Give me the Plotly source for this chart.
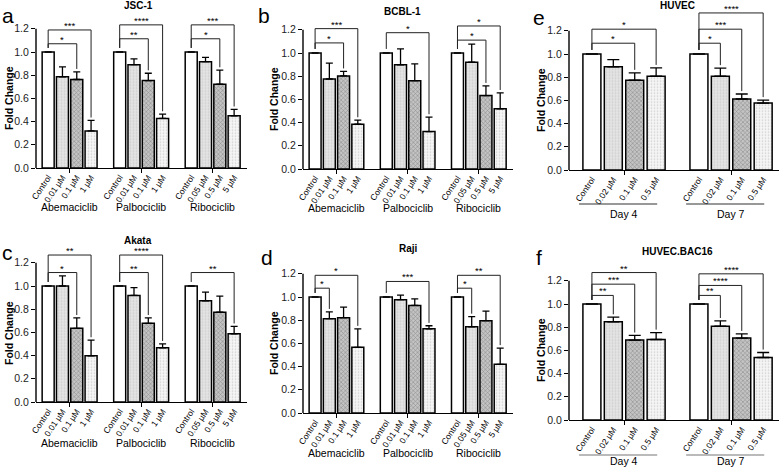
import plotly.graph_objects as go

W, H = 784, 469

# ---------------- data ----------------
drugs = ["Abemaciclib", "Palbociclib", "Ribociclib"]
days = ["Day 4", "Day 7"]
dose_abema = ["Control", "0.01 µM", "0.1 µM", "1 µM"]
dose_palbo = ["Control", "0.01 µM", "0.1 µM", "1 µM"]
dose_ribo = ["Control", "0.05 µM", "0.5 µM", "5 µM"]
dose_huvec = ["Control", "0.02 µM", "0.1 µM", "0.5 µM"]
y_ticks = [0.0, 0.2, 0.4, 0.6, 0.8, 1.0, 1.2]

# rows = groups, columns = doses (Control, low, mid, high)
jsc1_mean = [[1.0, 0.786, 0.763, 0.32], [1.0, 0.891, 0.754, 0.427], [1.0, 0.917, 0.723, 0.45]]
jsc1_err = [[0, 0.085, 0.066, 0.09], [0, 0.05, 0.063, 0.037], [0, 0.037, 0.12, 0.055]]
jsc1_sig = [(0, 2, 1.071, "*"), (0, 3, 1.19, "***"), (1, 2, 1.114, "**"),
            (1, 3, 1.234, "****"), (2, 2, 1.114, "*"), (2, 3, 1.234, "***")]

bcbl1_mean = [[1.0, 0.776, 0.802, 0.386], [1.0, 0.898, 0.761, 0.323], [1.0, 0.921, 0.633, 0.519]]
bcbl1_err = [[0, 0.137, 0.04, 0.035], [0, 0.137, 0.146, 0.124], [0, 0.155, 0.084, 0.137]]
bcbl1_sig = [(0, 2, 1.087, "*"), (0, 3, 1.21, "***"), (1, 3, 1.175, "*"),
             (2, 2, 1.111, "*"), (2, 3, 1.233, "*")]

huvec_mean = [[1.0, 0.89, 0.774, 0.809], [1.0, 0.809, 0.612, 0.577]]
huvec_err = [[0, 0.061, 0.064, 0.072], [0, 0.07, 0.043, 0.026]]
huvec_sig = [(0, 2, 1.093, "*"), (0, 3, 1.214, "*"), (1, 1, 1.093, "*"),
             (1, 2, 1.214, "***"), (1, 3, 1.354, "****")]

akata_mean = [[1.0, 1.0, 0.635, 0.398], [1.0, 0.919, 0.678, 0.467], [1.0, 0.872, 0.774, 0.588]]
akata_err = [[0, 0.087, 0.09, 0.135], [0, 0.067, 0.047, 0.034], [0, 0.076, 0.139, 0.064]]
akata_sig = [(0, 2, 1.116, "*"), (0, 3, 1.267, "**"), (1, 2, 1.116, "**"),
             (1, 3, 1.267, "****"), (2, 3, 1.116, "**")]

raji_mean = [[1.0, 0.813, 0.822, 0.566], [1.0, 0.977, 0.927, 0.726], [1.0, 0.743, 0.796, 0.42]]
raji_err = [[0, 0.059, 0.091, 0.16], [0, 0.04, 0.056, 0.026], [0, 0.088, 0.082, 0.14]]
raji_sig = [(0, 1, 1.076, "*"), (0, 3, 1.187, "*"), (1, 3, 1.134, "***"),
            (2, 1, 1.076, "*"), (2, 3, 1.187, "**")]

bac16_mean = [[1.0, 0.846, 0.689, 0.694], [1.0, 0.809, 0.706, 0.539]]
bac16_err = [[0, 0.04, 0.04, 0.06], [0, 0.045, 0.037, 0.043]]
bac16_sig = [(0, 1, 1.074, "**"), (0, 2, 1.171, "***"), (0, 3, 1.271, "**"),
             (1, 1, 1.074, "**"), (1, 2, 1.16, "****"), (1, 3, 1.26, "****")]

# ---------------- layout / style ----------------
FONT = "Arial, Liberation Sans, sans-serif"
STEP = 5          # x units per group
BARW = 0.84
PXU = 116.0       # pixels per 1.0 fold change
YMAX = 1.4

panels = [
    dict(letter="a", title="JSC-1", mean=jsc1_mean, err=jsc1_err, sig=jsc1_sig, groups=drugs,
         doses=[dose_abema, dose_palbo, dose_ribo], px=(36, 247), zero=168, xr=[-0.85, 13.9],
         title_xy=(138, 6), letter_xy=(8, 16), ytitle_xy=(9, 98), glabel_y=207, ew=3.5, day_line=None),
    dict(letter="b", title="BCBL-1", mean=bcbl1_mean, err=bcbl1_err, sig=bcbl1_sig, groups=drugs,
         doses=[dose_abema, dose_palbo, dose_ribo], px=(303, 513), zero=169, xr=[-0.85, 13.9],
         title_xy=(402, 11), letter_xy=(264, 16), ytitle_xy=(274, 99), glabel_y=208, ew=3.5, day_line=None),
    dict(letter="e", title="HUVEC", mean=huvec_mean, err=huvec_err, sig=huvec_sig, groups=days,
         doses=[dose_huvec, dose_huvec], px=(569, 779), zero=170, xr=[-1.07, 8.74],
         title_xy=(677, 6), letter_xy=(539, 17), ytitle_xy=(541, 100), glabel_y=214, ew=6, day_line=(204, "#333")),
    dict(letter="c", title="Akata", mean=akata_mean, err=akata_err, sig=akata_sig, groups=drugs,
         doses=[dose_abema, dose_palbo, dose_ribo], px=(36, 247), zero=402, xr=[-0.85, 13.9],
         title_xy=(138, 240), letter_xy=(8, 252), ytitle_xy=(9, 333), glabel_y=443, ew=3.5, day_line=None),
    dict(letter="d", title="Raji", mean=raji_mean, err=raji_err, sig=raji_sig, groups=drugs,
         doses=[dose_abema, dose_palbo, dose_ribo], px=(303, 513), zero=413, xr=[-0.85, 13.9],
         title_xy=(408, 249), letter_xy=(267, 257), ytitle_xy=(274, 343), glabel_y=453, ew=3.5, day_line=None),
    dict(letter="f", title="HUVEC.BAC16", mean=bac16_mean, err=bac16_err, sig=bac16_sig, groups=days,
         doses=[dose_huvec, dose_huvec], px=(569, 779), zero=420, xr=[-1.07, 8.74],
         title_xy=(677, 251), letter_xy=(539, 257), ytitle_xy=(541, 350), glabel_y=461, ew=6, day_line=(455, "#777")),
]

fills = [
    dict(color="white"),
    dict(color="#dedede", pattern=dict(shape=".", fgcolor="#b8b8b8", bgcolor="#e4e4e4", size=3, solidity=0.3)),
    dict(color="#a8a8a8", pattern=dict(shape="x", fgcolor="#555555", bgcolor="#c4c4c4", size=3, solidity=0.35)),
    dict(color="#f0f0f0", pattern=dict(shape=".", fgcolor="#a6a6a6", bgcolor="#f6f6f6", size=3, solidity=0.25)),
]

fig = go.Figure()
shapes = []
annotations = []


def px_to_paper(x, y):
    return x / W, 1 - y / H


for k, p in enumerate(panels, start=1):
    xa = "x" if k == 1 else f"x{k}"
    ya = "y" if k == 1 else f"y{k}"
    ng = len(p["groups"])
    for i in range(4):
        xs = [g * STEP + i for g in range(ng)]
        ys = [p["mean"][g][i] for g in range(ng)]
        es = [p["err"][g][i] for g in range(ng)]
        fig.add_trace(go.Bar(
            x=xs, y=ys, width=BARW, xaxis=xa, yaxis=ya, showlegend=False,
            marker=dict(line=dict(color="black", width=1.5), **fills[i]),
            error_y=dict(type="data", symmetric=False, array=es, arrayminus=[0] * ng,
                         color="black", thickness=1.3, width=p["ew"], visible=True),
            hoverinfo="skip",
        ))

    tickvals, ticktext = [], []
    for g in range(ng):
        for i in range(4):
            tickvals.append(g * STEP + i)
            ticktext.append(p["doses"][g][i])
    centers = [g * STEP + 1.5 for g in range(ng)]

    x0p, x1p = p["px"]
    top_px = p["zero"] - YMAX * PXU
    axkey = "" if k == 1 else str(k)
    fig.layout["xaxis" + axkey] = dict(
        domain=[x0p / W, x1p / W], range=p["xr"], anchor=ya, automargin=False,
        showline=True, linecolor="black", linewidth=1.4, showgrid=False, zeroline=False,
        tickmode="array", tickvals=tickvals, ticktext=ticktext, tickangle=-56, ticks="",
        tickfont=dict(size=8.5, color="black", family=FONT),
        minor=dict(tickmode="array", tickvals=centers, ticks="outside", ticklen=4,
                   tickcolor="black", tickwidth=1.3, showgrid=False),
        fixedrange=True,
    )
    fig.layout["yaxis" + axkey] = dict(
        domain=[1 - p["zero"] / H, 1 - top_px / H], range=[0, YMAX], anchor=xa, automargin=False,
        showline=False, showgrid=False, zeroline=False,
        tickmode="array", tickvals=y_ticks, ticktext=[f"{v:.1f}" for v in y_ticks],
        ticks="outside", ticklen=4, tickwidth=1.3, tickcolor="black",
        tickfont=dict(size=10.5, color="#222", family=FONT), fixedrange=True,
    )
    # y-axis line from 0 to 1.2
    shapes.append(dict(type="line", xref=f"{xa} domain", yref=ya, x0=0, x1=0, y0=0, y1=y_ticks[-1],
                       line=dict(color="black", width=1.4)))

    # significance brackets
    for (g, t, lvl, lab) in p["sig"]:
        xl = g * STEP
        xr_ = g * STEP + t
        yl = p["mean"][g][0] + p["err"][g][0] + 0.035
        yr = p["mean"][g][t] + p["err"][g][t] + 0.025
        shapes.append(dict(type="path", xref=xa, yref=ya,
                           path=f"M {xl},{yl} L {xl},{lvl} L {xr_},{lvl} L {xr_},{yr}",
                           line=dict(color="#222", width=1)))
        annotations.append(dict(x=(xl + xr_) / 2, y=lvl, xref=xa, yref=ya, text=lab, showarrow=False,
                                yanchor="bottom", yshift=-3, font=dict(size=9.5, color="black", family=FONT)))

    # group labels
    for g in range(ng):
        annotations.append(dict(x=centers[g], y=1 - p["glabel_y"] / H, xref=xa, yref="paper",
                                text=p["groups"][g], showarrow=False, xanchor="center", yanchor="middle",
                                font=dict(size=10.5, color="black", family=FONT)))
        if p["day_line"] is not None:
            ly, lc = p["day_line"]
            shapes.append(dict(type="line", xref=xa, yref="paper", x0=centers[g] - 2.1, x1=centers[g] + 1.55,
                               y0=1 - ly / H, y1=1 - ly / H, line=dict(color=lc, width=1.2)))

    tx, ty = px_to_paper(*p["title_xy"])
    annotations.append(dict(x=tx, y=ty, xref="paper", yref="paper", text=f"<b>{p['title']}</b>",
                            showarrow=False, xanchor="center", yanchor="middle",
                            font=dict(size=10, color="black", family=FONT)))
    lx, ly2 = px_to_paper(*p["letter_xy"])
    annotations.append(dict(x=lx, y=ly2, xref="paper", yref="paper", text=p["letter"],
                            showarrow=False, xanchor="center", yanchor="middle",
                            font=dict(size=21, color="black", family=FONT)))
    yx, yy = px_to_paper(*p["ytitle_xy"])
    annotations.append(dict(x=yx, y=yy, xref="paper", yref="paper", text="<b>Fold Change</b>",
                            showarrow=False, xanchor="center", yanchor="middle", textangle=-90,
                            font=dict(size=10.5, color="black", family=FONT)))

fig.update_layout(
    width=W, height=H, margin=dict(l=0, r=0, t=0, b=0, autoexpand=False),
    paper_bgcolor="white", plot_bgcolor="white", barmode="overlay",
    shapes=shapes, annotations=annotations, font=dict(family=FONT),
)

fig.write_html("out.html", config={"displayModeBar": False},
               post_script="document.body.style.margin='0';document.body.style.overflow='hidden';")
